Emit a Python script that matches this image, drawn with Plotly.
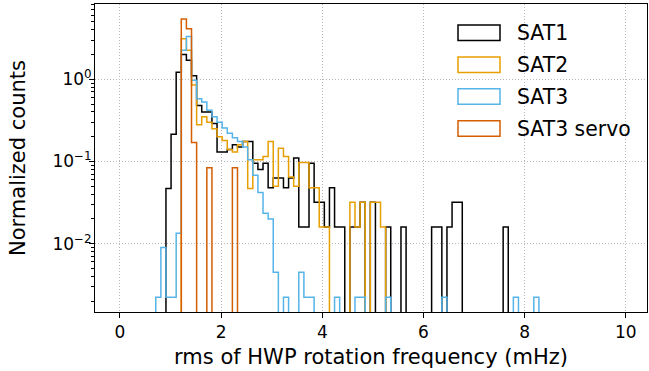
import numpy as np
import plotly.graph_objects as go

# ---------------- data ----------------
bin_edges = np.linspace(0, 10, 100)          # 99 bins, width 10/99

series_names = ["SAT1", "SAT2", "SAT3", "SAT3 servo"]
series_colors = ["#000000", "#E69F00", "#56B4E9", "#D55E00"]

# normalized counts (density) per bin, starting at the given bin index
sat1_first_bin = 9
sat1_density = [
    0.047, 0.215, 1.22, 2.0, 1.7, 1.1, 0.48, 0.40, 0.40, 0.29,      # k9-18
    0.13, 0.13, 0.14, 0.16, 0.15, 0.175, 0.175, 0.095, 0.08, 0.095,  # k19-28
    0.048, 0.063, 0.063, 0.048, 0.063, 0.11, 0.016, 0.016, 0.095, 0.032,  # k29-38
    0.032, 0.016, 0.048, 0.016, 0.016, 0, 0.016, 0.016, 0.032, 0,    # k39-48
    0.032, 0, 0, 0.016, 0, 0, 0.016, 0, 0, 0,                        # k49-58
    0, 0, 0.016, 0.016, 0, 0.016, 0.032, 0.032, 0, 0,                # k59-68
    0, 0, 0, 0, 0, 0, 0.016,                                         # k69-75
]

sat2_first_bin = 12
sat2_density = [
    3.1, 2.25, 0.85, 0.28, 0.35, 0.30, 0.25, 0.20, 0.18, 0.14,      # k12-21
    0.13, 0.16, 0.175, 0.047, 0.105, 0.105, 0.115, 0.175, 0.05, 0.145,  # k22-31
    0.115, 0.065, 0.05, 0.097, 0.097, 0.048, 0.048, 0.016, 0.016, 0,    # k32-41
    0, 0, 0, 0.032, 0.016, 0.032, 0, 0.032, 0.032, 0.016,           # k42-51
]

sat3_first_bin = 7
sat3_density = [
    0.00224, 0.009, 0.00224, 0.00224, 0.0134, 2.25, 3.3, 0.97, 0.58, 0.53,  # k7-16
    0.42, 0.35, 0.30, 0.256, 0.22, 0.194, 0.175, 0.15, 0.105, 0.068,       # k17-26
    0.042, 0.0235, 0.02, 0.0045, 0, 0.00224, 0, 0, 0.0045, 0.00224,        # k27-36
    0.00224, 0, 0, 0, 0, 0.00224, 0, 0, 0, 0.00224,                        # k37-46
    0.00224, 0, 0, 0, 0, 0.00224, 0, 0, 0, 0,                              # k47-56
    0, 0, 0, 0, 0, 0, 0.00224, 0, 0, 0,                                    # k57-66
    0, 0, 0, 0, 0, 0, 0, 0, 0, 0,                                          # k67-76
    0.00224, 0, 0, 0, 0.00224,                                             # k77-81
]

servo_first_bin = 12
servo_density = [5.4, 4.1, 0.17, 0, 0, 0.084, 0, 0, 0, 0, 0.084]       # k12-22

x_tick_vals = [0, 2, 4, 6, 8, 10]
y_tick_vals = [1, 0.1, 0.01]
y_tick_text = ["10<sup>0</sup>", "10<sup>\u22121</sup>", "10<sup>\u22122</sup>"]

x_label = "rms of HWP rotation frequency (mHz)"
y_label = "Normalized counts"

# ---------------- figure ----------------
FONT = "DejaVu Sans"
FLOOR = 1e-6   # empty bins drop below the axis (as matplotlib clips them)


def step_outline(first_bin, dens):
    vals = np.zeros(len(bin_edges) - 1)
    vals[first_bin:first_bin + len(dens)] = dens
    nz = np.nonzero(vals)[0]
    lo, hi = nz[0], nz[-1] + 1
    e = bin_edges[lo:hi + 1]
    v = np.where(vals[lo:hi] > 0, vals[lo:hi], FLOOR)
    xs = np.repeat(e, 2)
    ys = np.concatenate([[FLOOR], np.repeat(v, 2), [FLOOR]])
    return xs, ys


fig = go.Figure()
all_series = [
    (sat1_first_bin, sat1_density),
    (sat2_first_bin, sat2_density),
    (sat3_first_bin, sat3_density),
    (servo_first_bin, servo_density),
]
for (fb, dens), name, col in zip(all_series, series_names, series_colors):
    xs, ys = step_outline(fb, dens)
    fig.add_trace(go.Scatter(x=xs, y=ys, mode="lines", name=name,
                             line=dict(color=col, width=1.5),
                             showlegend=False, hoverinfo="skip"))

# plot area in pixels
W, H = 649, 371
L, R, T, B = 95, 647, 4, 312


def px_x(p):
    return (p - L) / (R - L)


def px_y(p):
    return (B - p) / (B - T)


# manual legend (unfilled rectangles like matplotlib patches)
leg_rect_x0, leg_rect_x1, leg_text_x = 458, 500, 515
leg_row_y0, leg_row_dy, leg_rect_h = 32.8, 31.9, 15.5
for i, (name, col) in enumerate(zip(series_names, series_colors)):
    cy = leg_row_y0 + i * leg_row_dy
    fig.add_shape(type="rect", xref="paper", yref="paper",
                  x0=px_x(leg_rect_x0), x1=px_x(leg_rect_x1),
                  y0=px_y(cy + leg_rect_h / 2), y1=px_y(cy - leg_rect_h / 2),
                  line=dict(color=col, width=1.5), fillcolor="rgba(0,0,0,0)")
    fig.add_annotation(xref="paper", yref="paper", x=px_x(leg_text_x), y=px_y(cy),
                       text=name, showarrow=False, xanchor="left", yanchor="middle",
                       font=dict(family=FONT, size=20.4, color="#000000"))

# y-axis title (placed like matplotlib's ylabel)
fig.add_annotation(xref="paper", yref="paper", x=px_x(18), y=0.5,
                   text=y_label, textangle=-90, showarrow=False,
                   xanchor="center", yanchor="middle",
                   font=dict(family=FONT, size=21, color="#000000"))

axis_common = dict(
    showline=True, linecolor="#000000", linewidth=1, mirror=True,
    ticks="outside", ticklen=5, tickwidth=1, tickcolor="#000000",
    showgrid=True, gridcolor="#b8b8b8", gridwidth=1, griddash="1px,2px",
    zeroline=False, automargin=False,
    tickfont=dict(family=FONT, size=17, color="#000000"),
)

fig.update_layout(
    width=W, height=H,
    margin=dict(l=L, r=W - R, t=T, b=H - B),
    paper_bgcolor="white", plot_bgcolor="white",
    font=dict(family=FONT, color="#000000"),
    xaxis=dict(range=[-0.494, 10.42], tickvals=x_tick_vals,
               title=dict(text=x_label, font=dict(family=FONT, size=21), standoff=7),
               **axis_common),
    yaxis=dict(type="log", range=[np.log10(0.001479), np.log10(8.22)],
               tickvals=y_tick_vals, ticktext=y_tick_text, ticklabelstandoff=-6,
               minor=dict(ticks="outside", ticklen=3, tickcolor="#000000",
                          dtick="D1", showgrid=False),
               **axis_common),
)

fig.write_html("out.html", config={"displayModeBar": False},
               post_script="document.body.style.margin='0px';document.body.style.padding='0px';")
